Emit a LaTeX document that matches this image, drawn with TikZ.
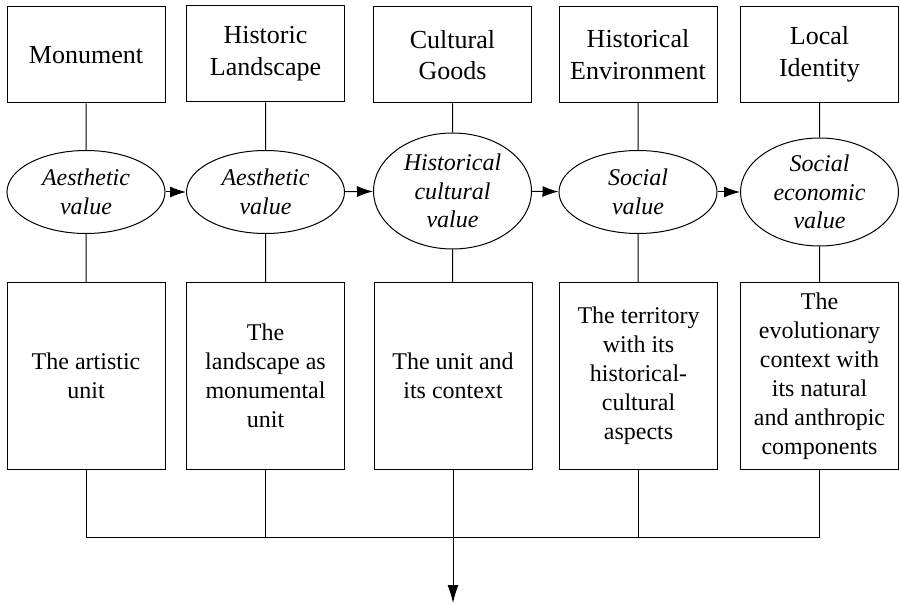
\documentclass[tikz,border=0pt]{standalone}
\usepackage{fontspec}
\setmainfont{Liberation Serif}
\usetikzlibrary{shapes.geometric,arrows.meta}
\tikzset{
  topbox/.style={draw, minimum width=158pt, minimum height=96pt, inner sep=0pt,
    align=center, font=\fontsize{26}{31.7}\selectfont},
  valnode/.style={draw, ellipse, minimum width=158pt, minimum height=83pt, inner sep=0pt,
    align=center, font=\fontsize{24}{28.5}\selectfont\itshape},
  unitbox/.style={draw, minimum width=158pt, minimum height=186pt, inner sep=0pt,
    align=center, font=\fontsize{24}{29}\selectfont},
}
\begin{document}
\begin{tikzpicture}[x=1pt, y=-1pt, line width=1pt, >={Latex[length=16pt,width=11pt]}]
            \useasboundingbox (0,0) rectangle (900,604);
            % top row
            \node[topbox] (monument) at (86, 55) {Monument};
            \node[topbox] (landscape) at (265.5, 54) {Historic\\Landscape};
            \node[topbox] (goods) at (452.5, 55) {Cultural\\Goods};
            \node[topbox] (environment) at (638, 54.5) {Historical\\Environment};
            \node[topbox] (identity) at (819.5, 54.5) {Local\\Identity};

            % values
            \node[valnode] (v-mon) at (86, 192) {Aesthetic\\value};
            \node[valnode] (v-land) at (265.5, 192) {Aesthetic\\value};
            \node[valnode, minimum height=116pt] (v-goods) at (452.5, 191) {Historical\\cultural\\value};
            \node[valnode] (v-env) at (638, 192) {Social\\value};
            \node[valnode, minimum height=108pt] (v-id) at (819.5, 192) {Social\\economic\\value};

            % units
            \node[unitbox] (u-mon) at (86, 376) {The artistic\\unit};
            \node[unitbox] (u-land) at (265.5, 376) {The\\landscape as\\monumental\\unit};
            \node[unitbox] (u-goods) at (453, 376) {The unit and\\its context};
            \node[unitbox] (u-env) at (638.5, 376) {The territory\\with its\\historical-\\cultural\\aspects};
            \node[unitbox] (u-id) at (819.5, 376) {The\\evolutionary\\context with\\its natural\\and anthropic\\components};

            \draw (monument) -- (v-mon) -- (u-mon)
                (landscape) -- (v-land) -- (u-land)
                (goods) -- (v-goods) -- (u-goods)
                (environment) -- (v-env) -- (u-env)
                (identity) -- (v-id) -- (u-id);

            \draw (v-mon) edge[->] (v-land)
                (v-land) edge[->] (v-goods)
                (v-goods) edge[->] (v-env)
                (v-env) edge[->] (v-id);

            \coordinate (bus) at (0, 537);
            \coordinate (out) at (453, 603);
            \draw (u-mon.south) -- (u-mon.south |- bus) -- (u-id.south |- bus) -- (u-id.south)
                (u-land.south) -- (u-land.south |- bus)
                (u-env.south) -- (u-env.south |- bus);
            \draw (u-goods.south) edge[->, >={Latex[length=18pt,width=11pt]}] (out);
        \end{tikzpicture}
\end{document}
